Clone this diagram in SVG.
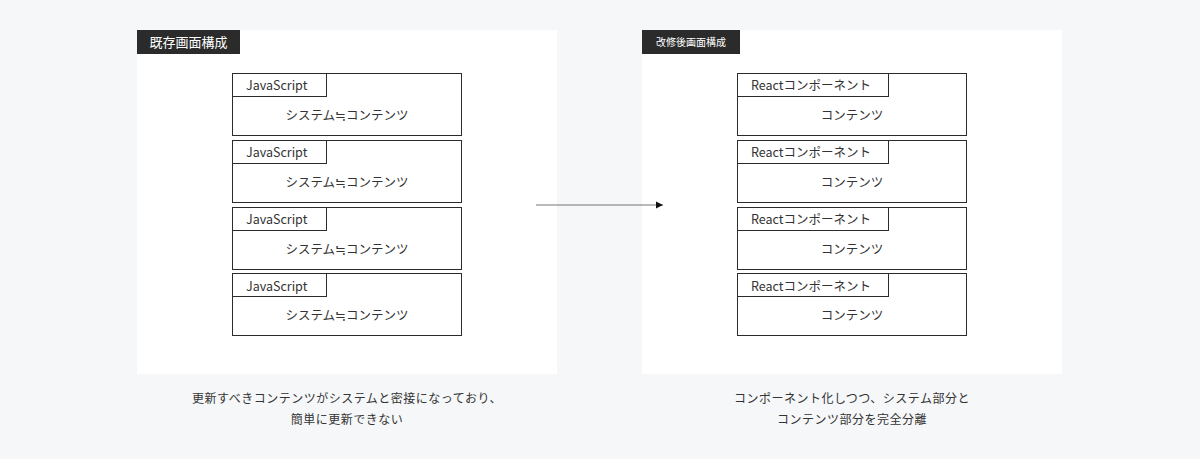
<svg xmlns="http://www.w3.org/2000/svg" width="1200" height="459" viewBox="0 0 1200 459">
<defs>
<style>
.bg{fill:#f6f7f9}
.panel{fill:#ffffff}
.tag{fill:#2b2b2b}
.tagt{fill:#ffffff;font-family:"Noto Sans CJK JP","Noto Sans",sans-serif}
.box{fill:#ffffff;stroke:#2b2b2b;stroke-width:1}
.t{fill:#333333;font-family:"Noto Sans CJK JP","Noto Sans",sans-serif;font-size:12.5px}
.cap{fill:#333333;font-family:"Noto Sans CJK JP","Noto Sans",sans-serif;font-size:12px;text-anchor:middle;letter-spacing:0.5px}
.conn{stroke:#777777;stroke-width:1.2;fill:none}
</style>
<marker id="ah" markerWidth="8" markerHeight="8" refX="7" refY="4" orient="auto" markerUnits="userSpaceOnUse">
<path d="M0,0.5 L7,4 L0,7.5 Z" fill="#111111"/>
</marker>
</defs>
<rect class="bg" x="0" y="0" width="1200" height="459"/>

<g id="panel-before">
<rect class="panel" x="137" y="30" width="420" height="344"/>
<rect class="tag" x="137" y="30" width="103" height="24"/>
<text class="tagt" x="188.5" y="47" font-size="13" text-anchor="middle">既存画面構成</text>
</g>
<g id="panel-after">
<rect class="panel" x="642" y="30" width="420" height="344"/>
<rect class="tag" x="642" y="30" width="98" height="24"/>
<text class="tagt" x="691" y="46" font-size="10" text-anchor="middle">改修後画面構成</text>
</g>

<g id="js1">
<rect class="box" x="232.5" y="73.5" width="229" height="62"/>
<rect class="box" x="232.5" y="73.5" width="94" height="23"/>
<text class="t" x="246" y="90">JavaScript</text>
<text class="t" x="347" y="120" text-anchor="middle">システム≒コンテンツ</text>
</g>
<g id="js2">
<rect class="box" x="232.5" y="140.5" width="229" height="62"/>
<rect class="box" x="232.5" y="140.5" width="94" height="23"/>
<text class="t" x="246" y="157">JavaScript</text>
<text class="t" x="347" y="187" text-anchor="middle">システム≒コンテンツ</text>
</g>
<g id="js3">
<rect class="box" x="232.5" y="207.5" width="229" height="62"/>
<rect class="box" x="232.5" y="207.5" width="94" height="23"/>
<text class="t" x="246" y="224">JavaScript</text>
<text class="t" x="347" y="254" text-anchor="middle">システム≒コンテンツ</text>
</g>
<g id="js4">
<rect class="box" x="232.5" y="273.5" width="229" height="62"/>
<rect class="box" x="232.5" y="273.5" width="94" height="23"/>
<text class="t" x="246" y="291">JavaScript</text>
<text class="t" x="347" y="320" text-anchor="middle">システム≒コンテンツ</text>
</g>

<g id="rc1">
<rect class="box" x="737.5" y="73.5" width="229" height="62"/>
<rect class="box" x="737.5" y="73.5" width="151" height="23"/>
<text class="t" x="751" y="90">Reactコンポーネント</text>
<text class="t" x="852" y="120" text-anchor="middle">コンテンツ</text>
</g>
<g id="rc2">
<rect class="box" x="737.5" y="140.5" width="229" height="62"/>
<rect class="box" x="737.5" y="140.5" width="151" height="23"/>
<text class="t" x="751" y="157">Reactコンポーネント</text>
<text class="t" x="852" y="187" text-anchor="middle">コンテンツ</text>
</g>
<g id="rc3">
<rect class="box" x="737.5" y="207.5" width="229" height="62"/>
<rect class="box" x="737.5" y="207.5" width="151" height="23"/>
<text class="t" x="751" y="224">Reactコンポーネント</text>
<text class="t" x="852" y="254" text-anchor="middle">コンテンツ</text>
</g>
<g id="rc4">
<rect class="box" x="737.5" y="273.5" width="229" height="62"/>
<rect class="box" x="737.5" y="273.5" width="151" height="23"/>
<text class="t" x="751" y="291">Reactコンポーネント</text>
<text class="t" x="852" y="320" text-anchor="middle">コンテンツ</text>
</g>

<g id="connectors">
<line class="conn" x1="536" y1="205" x2="663" y2="205" marker-end="url(#ah)"/>
</g>

<g id="captions">
<text class="cap" x="347" y="403">更新すべきコンテンツがシステムと密接になっており、</text>
<text class="cap" x="347" y="424">簡単に更新できない</text>
<text class="cap" x="852" y="403">コンポーネント化しつつ、システム部分と</text>
<text class="cap" x="852" y="424">コンテンツ部分を完全分離</text>
</g>
</svg>
